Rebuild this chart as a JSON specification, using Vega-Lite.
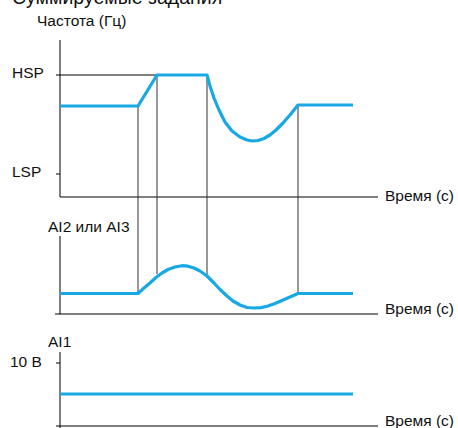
{
  "$schema": "https://vega.github.io/schema/vega-lite/v6.json",
  "width": 458,
  "height": 428,
  "autosize": {"type": "none"},
  "padding": 0,
  "background": "white",
  "config": {"view": {"stroke": null}, "text": {"font": "Liberation Sans"}},
  "datasets": {
    "axes": [
      {"x": 60, "x2": 60, "y": 40, "y2": 197},
      {"x": 60, "x2": 378, "y": 197, "y2": 197},
      {"x": 56, "x2": 157, "y": 75, "y2": 75},
      {"x": 56, "x2": 60, "y": 174, "y2": 174},
      {"x": 60, "x2": 60, "y": 236, "y2": 314},
      {"x": 55, "x2": 378, "y": 314, "y2": 314},
      {"x": 60, "x2": 60, "y": 352, "y2": 428},
      {"x": 56, "x2": 60, "y": 363, "y2": 363},
      {"x": 56, "x2": 378, "y": 426, "y2": 426}
    ],
    "connectors": [
      {"x": 138, "x2": 138, "y": 106, "y2": 293},
      {"x": 157, "x2": 157, "y": 75, "y2": 274},
      {"x": 207, "x2": 207, "y": 75, "y2": 276},
      {"x": 298, "x2": 298, "y": 105, "y2": 293}
    ],
    "curves": [
      {"s": "freq", "x": 60, "y": 106},
      {"s": "freq", "x": 138, "y": 106},
      {"s": "freq", "x": 157, "y": 75},
      {"s": "freq", "x": 207, "y": 75},
      {"s": "freq", "x": 210, "y": 86},
      {"s": "freq", "x": 214, "y": 98},
      {"s": "freq", "x": 219, "y": 110},
      {"s": "freq", "x": 225, "y": 122},
      {"s": "freq", "x": 232, "y": 131},
      {"s": "freq", "x": 240, "y": 137},
      {"s": "freq", "x": 247, "y": 140},
      {"s": "freq", "x": 252, "y": 141},
      {"s": "freq", "x": 258, "y": 140.5},
      {"s": "freq", "x": 264, "y": 138.5},
      {"s": "freq", "x": 270, "y": 135},
      {"s": "freq", "x": 276, "y": 130},
      {"s": "freq", "x": 283, "y": 123},
      {"s": "freq", "x": 290, "y": 115},
      {"s": "freq", "x": 298, "y": 105},
      {"s": "freq", "x": 353, "y": 105},
      {"s": "ai2", "x": 60, "y": 293.5},
      {"s": "ai2", "x": 138, "y": 293.5},
      {"s": "ai2", "x": 144, "y": 288},
      {"s": "ai2", "x": 150, "y": 283},
      {"s": "ai2", "x": 156, "y": 277.5},
      {"s": "ai2", "x": 162, "y": 273},
      {"s": "ai2", "x": 168, "y": 269.5},
      {"s": "ai2", "x": 175, "y": 267},
      {"s": "ai2", "x": 182, "y": 265.7},
      {"s": "ai2", "x": 188, "y": 266.2},
      {"s": "ai2", "x": 194, "y": 268},
      {"s": "ai2", "x": 200, "y": 271},
      {"s": "ai2", "x": 207, "y": 276},
      {"s": "ai2", "x": 214, "y": 283},
      {"s": "ai2", "x": 220, "y": 289.5},
      {"s": "ai2", "x": 227, "y": 296},
      {"s": "ai2", "x": 233, "y": 301},
      {"s": "ai2", "x": 240, "y": 305},
      {"s": "ai2", "x": 247, "y": 307.5},
      {"s": "ai2", "x": 254, "y": 308},
      {"s": "ai2", "x": 261, "y": 307.6},
      {"s": "ai2", "x": 268, "y": 306},
      {"s": "ai2", "x": 275, "y": 303.5},
      {"s": "ai2", "x": 282, "y": 300.5},
      {"s": "ai2", "x": 290, "y": 297},
      {"s": "ai2", "x": 298, "y": 293.5},
      {"s": "ai2", "x": 353, "y": 293.5},
      {"s": "ai1", "x": 60, "y": 394},
      {"s": "ai1", "x": 353, "y": 394}
    ],
    "labels": [
      {"x": 37, "y": 21, "t": "Частота (Гц)"},
      {"x": 12, "y": 72.5, "t": "HSP"},
      {"x": 12, "y": 172, "t": "LSP"},
      {"x": 385, "y": 196, "t": "Время (с)"},
      {"x": 48, "y": 227, "t": "AI2 или AI3"},
      {"x": 385, "y": 308.5, "t": "Время (с)"},
      {"x": 48, "y": 342, "t": "AI1"},
      {"x": 10, "y": 362, "t": "10 В"},
      {"x": 385, "y": 420.5, "t": "Время (с)"}
    ],
    "title": [
      {"x": 12, "y": 4, "t": "Суммируемые задания"}
    ]
  },
  "layer": [
    {
      "data": {"name": "axes"},
      "mark": {"type": "rule", "color": "#000000", "strokeWidth": 1},
      "encoding": {
        "x": {"field": "x", "type": "quantitative", "scale": {"domain": [0, 458], "nice": false, "zero": false}, "axis": null},
        "x2": {"field": "x2"},
        "y": {"field": "y", "type": "quantitative", "scale": {"domain": [0, 428], "reverse": true, "nice": false, "zero": false}, "axis": null},
        "y2": {"field": "y2"}
      }
    },
    {
      "data": {"name": "connectors"},
      "mark": {"type": "rule", "color": "#333333", "strokeWidth": 1},
      "encoding": {
        "x": {"field": "x", "type": "quantitative"},
        "x2": {"field": "x2"},
        "y": {"field": "y", "type": "quantitative"},
        "y2": {"field": "y2"}
      }
    },
    {
      "data": {"name": "curves"},
      "mark": {"type": "line", "color": "#18a8e4", "strokeWidth": 3.2, "interpolate": "linear", "strokeJoin": "round"},
      "encoding": {
        "x": {"field": "x", "type": "quantitative"},
        "y": {"field": "y", "type": "quantitative"},
        "detail": {"field": "s"}
      }
    },
    {
      "data": {"name": "labels"},
      "mark": {"type": "text", "align": "left", "baseline": "middle", "fontSize": 15.5, "color": "#111111"},
      "encoding": {
        "x": {"field": "x", "type": "quantitative"},
        "y": {"field": "y", "type": "quantitative"},
        "text": {"field": "t"}
      }
    },
    {
      "data": {"name": "title"},
      "mark": {"type": "text", "align": "left", "baseline": "alphabetic", "fontSize": 19.5, "color": "#111111"},
      "encoding": {
        "x": {"field": "x", "type": "quantitative"},
        "y": {"field": "y", "type": "quantitative"},
        "text": {"field": "t"}
      }
    }
  ]
}
